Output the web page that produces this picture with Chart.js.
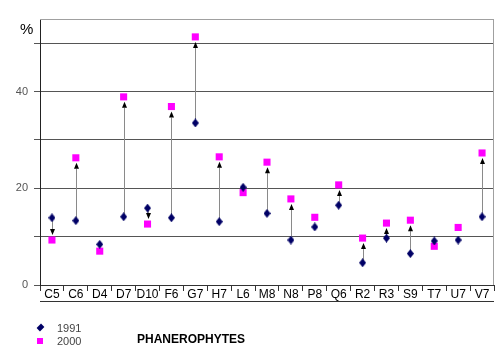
<!DOCTYPE html>
<html>
<head>
<meta charset="utf-8">
<script src="https://cdn.jsdelivr.net/npm/chart.js@4"></script>
<style>
  html, body { margin:0; padding:0; background:#fff; }
  #wrap { position:relative; width:500px; height:355px; font-family:"Liberation Sans", Arial, sans-serif; }
  canvas { position:absolute; left:0; top:0; }
  .lbl { position:absolute; white-space:nowrap; line-height:1; }
  .pct { left:20px; top:21px; font-size:15px; color:#000; }
  .leg { left:57px; font-size:11px; color:#444; }
  .ttl { left:137px; top:333px; font-size:12px; font-weight:bold; color:#000; }
  .dia { position:absolute; width:5px; height:5px; background:#000066; transform:rotate(45deg) scale(0.95,1.25); }
  .sq { position:absolute; width:6px; height:6px; background:#ff00ff; }
</style>
</head>
<body>
<div id="wrap">
  <canvas id="c" width="500" height="355"></canvas>
  <div class="lbl pct">%</div>
  <div class="dia" style="left:38px;top:325px;"></div>
  <div class="lbl leg" style="top:323px;">1991</div>
  <div class="sq" style="left:37px;top:338px;"></div>
  <div class="lbl leg" style="top:336px;">2000</div>
  <div class="lbl ttl">PHANEROPHYTES</div>
</div>
<script>
const categories = ['C5','C6','D4','D7','D10','F6','G7','H7','L6','M8','N8','P8','Q6','R2','R3','S9','T7','U7','V7'];
const values1991 = [13.9,13.3,8.4,14.1,15.9,13.9,33.5,13.1,20.2,14.8,9.3,12.0,16.5,4.6,9.7,6.5,9.1,9.3,14.1];
const values2000 = [9.3,26.3,7.0,38.9,12.6,36.9,51.3,26.5,19.1,25.4,17.8,14.0,20.7,9.7,12.8,13.4,8.0,11.9,27.3];
const showArrow = [1,1,0,1,1,1,1,1,0,1,1,0,1,1,1,1,0,0,1];
const yTickLabels = [0,20,40];
const seriesNames = ['1991','2000'];

// diamond marker image
const dia = document.createElement('canvas');
dia.width = 7; dia.height = 9;
(function(){
  const g = dia.getContext('2d');
  g.fillStyle = '#000066';
  g.beginPath();
  g.moveTo(3.5,0); g.lineTo(7,4.5); g.lineTo(3.5,9); g.lineTo(0,4.5); g.closePath();
  g.fill();
})();

const framePlugin = {
  id: 'frame',
  beforeDatasetsDraw(chart) {
    const {ctx, scales:{x, y}} = chart;
    ctx.save();
    // arrows from 1991 to 2000
    for (let i = 0; i < categories.length; i++) {
      if (!showArrow[i]) continue;
      const px = Math.round(x.getPixelForValue(i)) + 0.5;
      const y1 = y.getPixelForValue(values1991[i]);
      const y2 = y.getPixelForValue(values2000[i]);
      const dir = y2 < y1 ? -1 : 1;
      const tip = y2 - dir * 5;
      const base = tip - dir * 6;
      ctx.strokeStyle = '#8a8a8a';
      ctx.lineWidth = 1;
      ctx.beginPath();
      ctx.moveTo(px, y1);
      ctx.lineTo(px, base);
      ctx.stroke();
      ctx.fillStyle = '#000';
      ctx.beginPath();
      ctx.moveTo(px, tip);
      ctx.lineTo(px - 2.5, base);
      ctx.lineTo(px + 2.5, base);
      ctx.closePath();
      ctx.fill();
    }
    ctx.restore();
  },
  afterDraw(chart) {
    const {ctx, chartArea:a, scales:{x}} = chart;
    ctx.save();
    ctx.lineWidth = 1;
    // top and right light border
    ctx.strokeStyle = '#a0a0a0';
    ctx.beginPath();
    ctx.moveTo(a.left, Math.round(a.top) + 0.5);
    ctx.lineTo(a.right, Math.round(a.top) + 0.5);
    ctx.moveTo(Math.round(a.right) - 0.5, Math.round(a.top));
    ctx.lineTo(Math.round(a.right) - 0.5, a.bottom);
    ctx.stroke();
    // bottom line under category labels
    ctx.strokeStyle = '#333';
    ctx.beginPath();
    ctx.moveTo(a.left, Math.round(x.bottom) - 0.5);
    ctx.lineTo(a.right, Math.round(x.bottom) - 0.5);
    ctx.stroke();
    ctx.restore();
  }
};

new Chart(document.getElementById('c'), {
  type: 'line',
  data: {
    labels: categories,
    datasets: [
      { label: seriesNames[0], data: values1991, showLine: false, pointStyle: dia, pointRadius: 4, backgroundColor: '#000066', borderColor: '#000066' },
      { label: seriesNames[1], data: values2000, showLine: false, pointStyle: 'rect', pointRadius: 5, pointBorderWidth: 0, backgroundColor: '#ff00ff', borderColor: '#ff00ff' }
    ]
  },
  options: {
    responsive: false,
    animation: false,
    events: [],
    layout: { padding: { left: 0, right: 6, top: 19, bottom: 53 } },
    plugins: { legend: { display: false }, tooltip: { enabled: false } },
    scales: {
      x: {
        type: 'category',
        offset: true,
        grid: { offset: true, drawOnChartArea: false, tickLength: 6, color: '#333' },
        border: { color: '#333' },
        ticks: { color: '#000', font: { family: '"Liberation Sans", Arial, sans-serif', size: 12 }, padding: -4, maxRotation: 0, autoSkip: false },
        afterFit(s) { s.height = 17; }
      },
      y: {
        min: 0, max: 55,
        ticks: {
          stepSize: 10, includeBounds: false,
          color: '#555', padding: 6,
          font: { family: '"Liberation Sans", Arial, sans-serif', size: 11 },
          callback: (v) => yTickLabels.includes(v) ? String(v) : ''
        },
        grid: { color: '#555', tickLength: 6, tickColor: '#555' },
        border: { color: '#222' },
        afterFit(s) { s.width = 40; }
      }
    }
  },
  plugins: [framePlugin]
});
</script>
</body>
</html>
